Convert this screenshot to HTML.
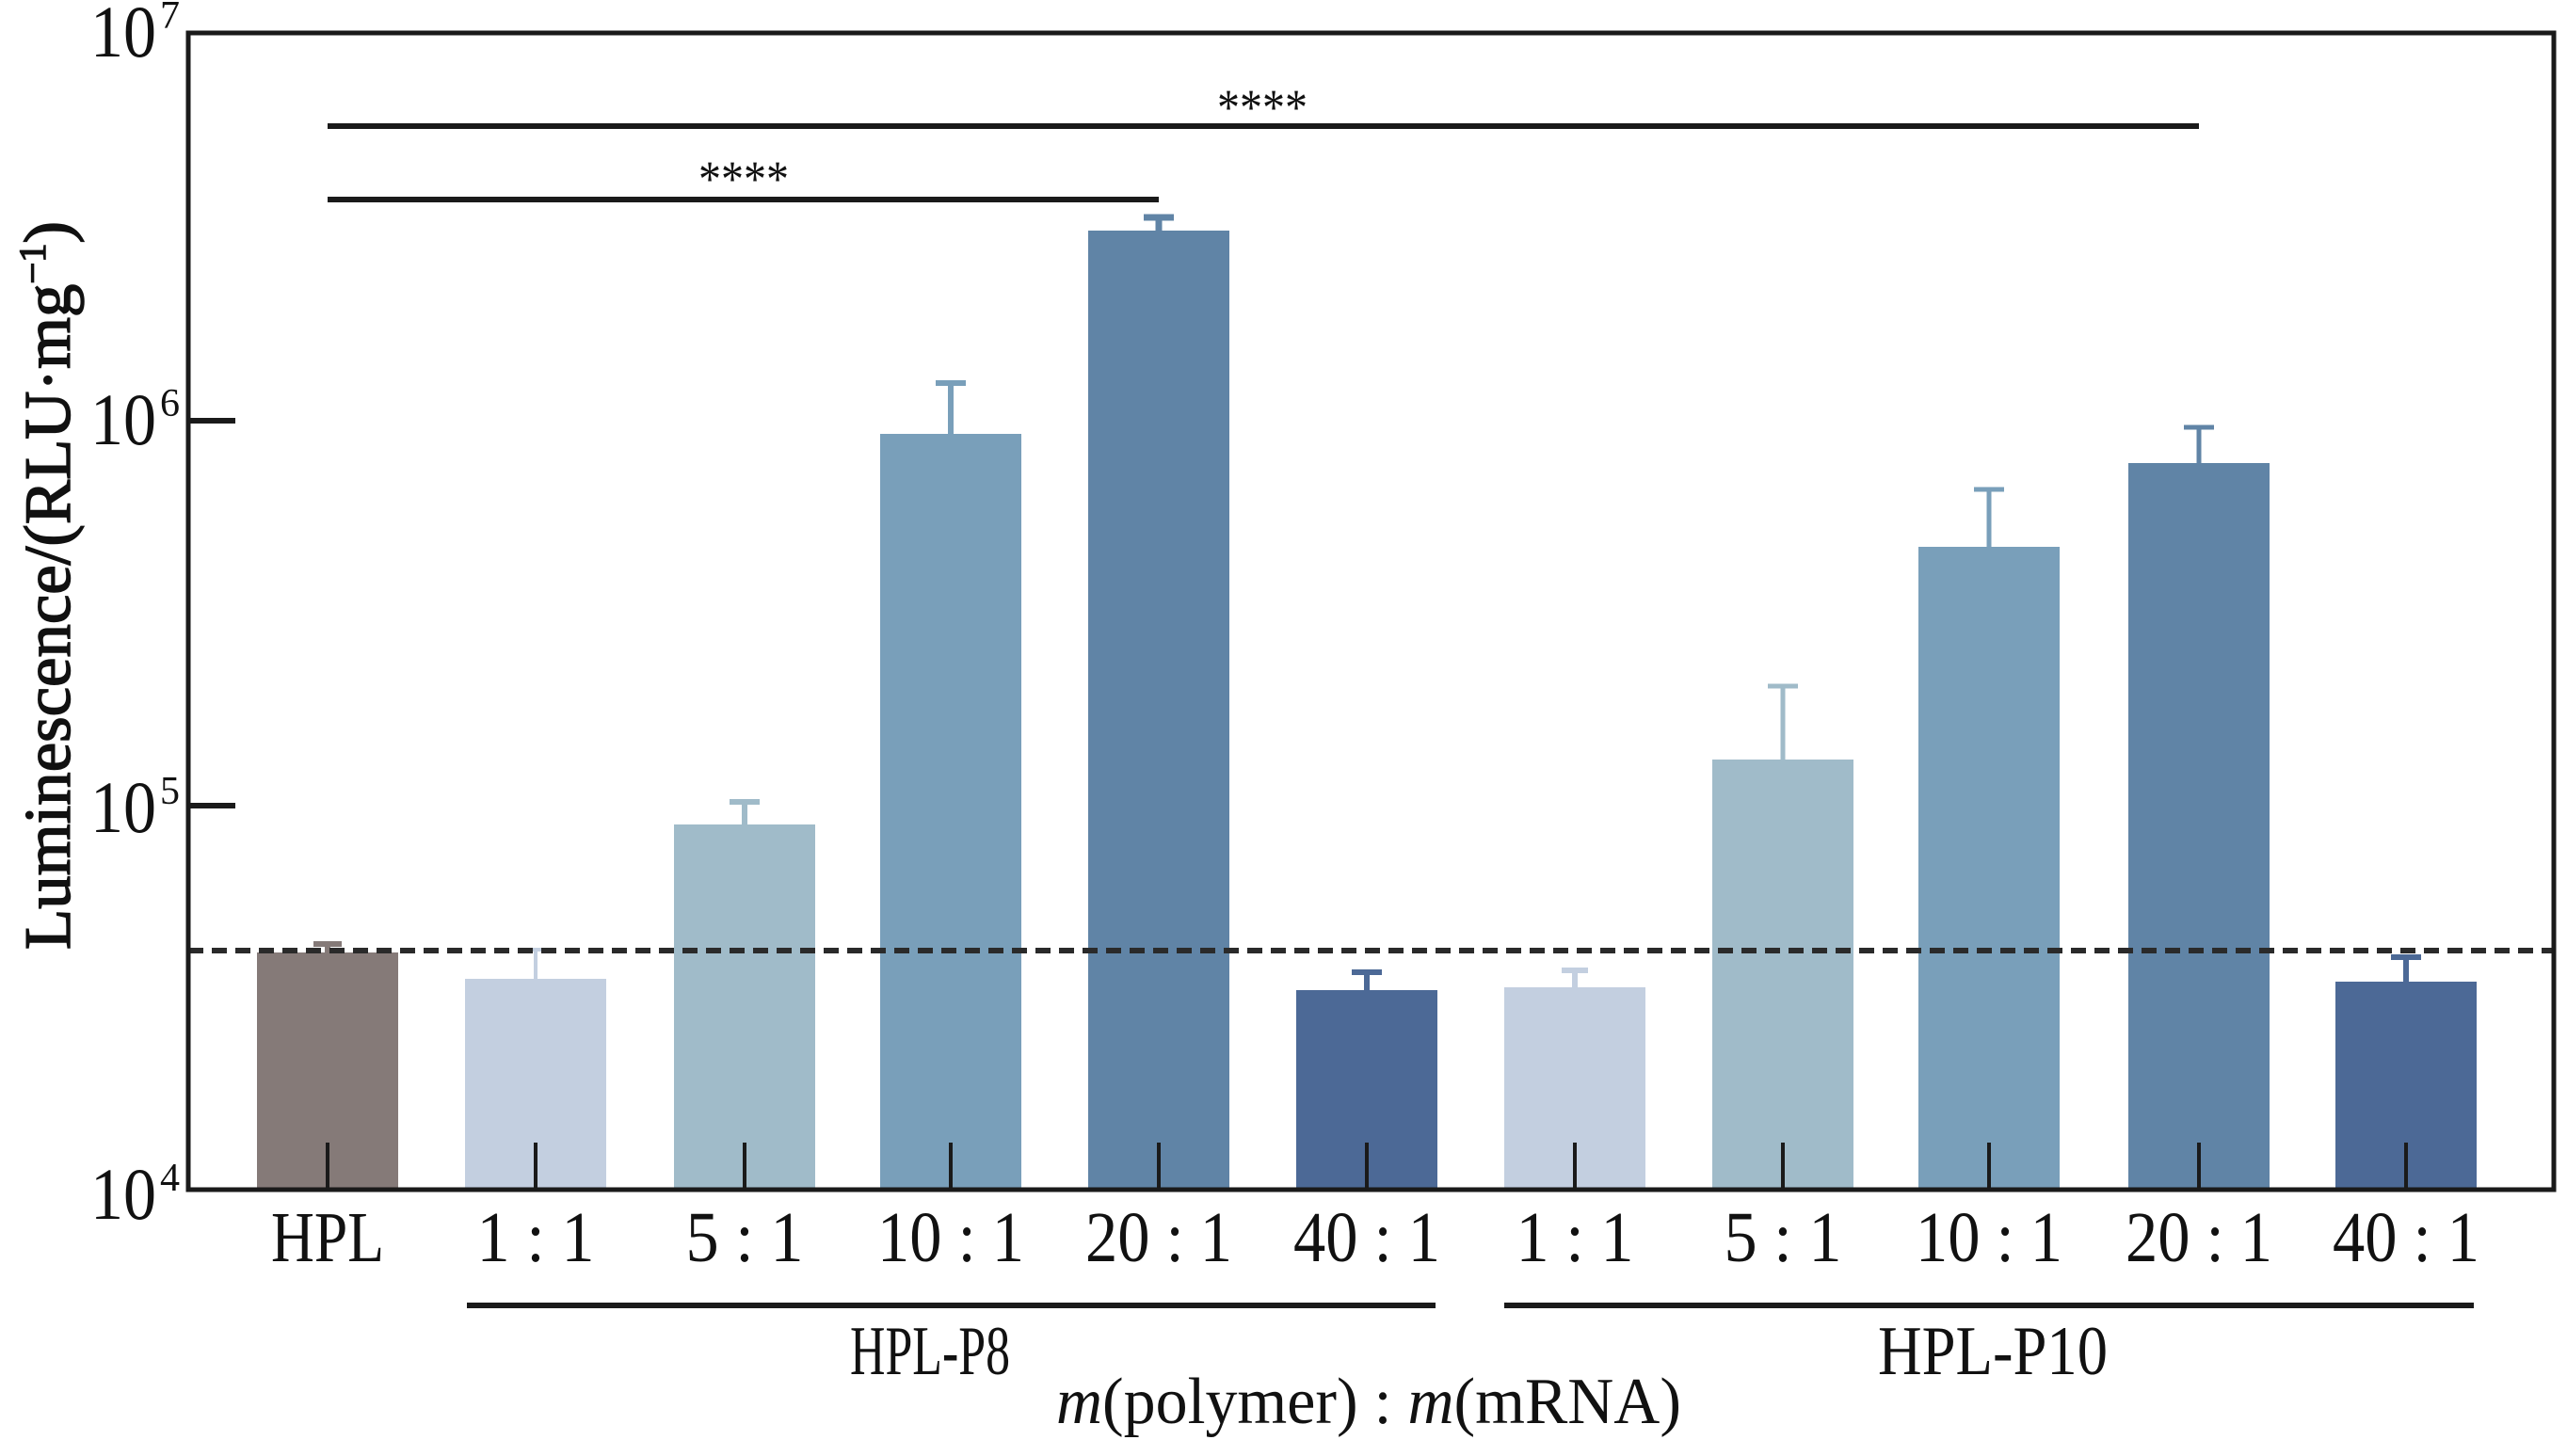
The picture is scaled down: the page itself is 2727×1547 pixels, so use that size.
<!DOCTYPE html>
<html><head><meta charset="utf-8"><style>html,body{margin:0;padding:0;background:#fff}svg{display:block}</style></head><body>
<svg width="2727" height="1547" viewBox="0 0 2727 1547" xmlns="http://www.w3.org/2000/svg" font-family="'Liberation Serif', serif" fill="#111">
<g>
<rect x="273" y="1012" width="150" height="252" fill="#857a78"/>
<rect x="494" y="1040" width="150" height="224" fill="#c3cfe0"/>
<rect x="716" y="876" width="150" height="388" fill="#a0bbc9"/>
<rect x="935" y="461" width="150" height="803" fill="#799fba"/>
<rect x="1156" y="245" width="150" height="1019" fill="#6084a6"/>
<rect x="1377" y="1052" width="150" height="212" fill="#4c6996"/>
<rect x="1598" y="1049" width="150" height="215" fill="#c3cfe0"/>
<rect x="1819" y="807" width="150" height="457" fill="#a0bbc9"/>
<rect x="2038" y="581" width="150" height="683" fill="#799fba"/>
<rect x="2261" y="492" width="150" height="772" fill="#6084a6"/>
<rect x="2481" y="1043" width="150" height="221" fill="#4c6996"/>
</g>
<g stroke-width="4">
<path d="M348 1012V1003M333 1003H363" stroke="#857a78" stroke-width="6"/>
<path d="M569 1040V1009M555 1009H583" stroke="#c3cfe0"/>
<path d="M791 876V852M775 852H807" stroke="#a0bbc9" stroke-width="6"/>
<path d="M1010 461V407M994 407H1026" stroke="#799fba" stroke-width="6"/>
<path d="M1231 245V231M1215 231H1247" stroke="#6084a6" stroke-width="7"/>
<path d="M1452 1052V1033M1436 1033H1468" stroke="#4c6996" stroke-width="6"/>
<path d="M1673 1049V1031M1659 1031H1687" stroke="#c3cfe0" stroke-width="6"/>
<path d="M1894 807V729M1878 729H1910" stroke="#a0bbc9" stroke-width="5"/>
<path d="M2113 581V520M2097 520H2129" stroke="#799fba" stroke-width="5"/>
<path d="M2336 492V454M2320 454H2352" stroke="#6084a6" stroke-width="5"/>
<path d="M2556 1043V1017M2540 1017H2572" stroke="#4c6996" stroke-width="6"/>
</g>
<line x1="200" y1="1010" x2="2713" y2="1010" stroke="#2a2a2a" stroke-width="6" stroke-dasharray="16,9"/>
<rect x="200" y="35" width="2513" height="1229" fill="none" stroke="#1a1a1a" stroke-width="5"/>
<path d="M200 447H250M200 856H250" stroke="#1a1a1a" stroke-width="6"/>
<path d="M348 1214V1264M569 1214V1264M791 1214V1264M1010 1214V1264M1231 1214V1264M1452 1214V1264M1673 1214V1264M1894 1214V1264M2113 1214V1264M2336 1214V1264M2556 1214V1264" stroke="#1a1a1a" stroke-width="4"/>
<path d="M348 134H2336M348 212H1231" stroke="#1a1a1a" stroke-width="6"/>
<text x="1341" y="132" font-size="54" text-anchor="middle" textLength="96" lengthAdjust="spacingAndGlyphs">****</text>
<text x="790" y="208" font-size="54" text-anchor="middle" textLength="96" lengthAdjust="spacingAndGlyphs">****</text>
<g font-size="78">
<text x="96" y="60" textLength="70" lengthAdjust="spacingAndGlyphs">10</text><text x="170" y="30" font-size="42">7</text>
<text x="96" y="472" textLength="70" lengthAdjust="spacingAndGlyphs">10</text><text x="170" y="442" font-size="42">6</text>
<text x="96" y="884" textLength="70" lengthAdjust="spacingAndGlyphs">10</text><text x="170" y="854" font-size="42">5</text>
<text x="96" y="1295" textLength="70" lengthAdjust="spacingAndGlyphs">10</text><text x="170" y="1265" font-size="42">4</text>
</g>
<g font-size="76" text-anchor="middle">
<text x="348" y="1340" textLength="120" lengthAdjust="spacingAndGlyphs">HPL</text>
<text x="569" y="1340" textLength="125" lengthAdjust="spacingAndGlyphs">1 : 1</text>
<text x="791" y="1340" textLength="125" lengthAdjust="spacingAndGlyphs">5 : 1</text>
<text x="1010" y="1340" textLength="156" lengthAdjust="spacingAndGlyphs">10 : 1</text>
<text x="1231" y="1340" textLength="156" lengthAdjust="spacingAndGlyphs">20 : 1</text>
<text x="1452" y="1340" textLength="156" lengthAdjust="spacingAndGlyphs">40 : 1</text>
<text x="1673" y="1340" textLength="125" lengthAdjust="spacingAndGlyphs">1 : 1</text>
<text x="1894" y="1340" textLength="125" lengthAdjust="spacingAndGlyphs">5 : 1</text>
<text x="2113" y="1340" textLength="156" lengthAdjust="spacingAndGlyphs">10 : 1</text>
<text x="2336" y="1340" textLength="156" lengthAdjust="spacingAndGlyphs">20 : 1</text>
<text x="2556" y="1340" textLength="156" lengthAdjust="spacingAndGlyphs">40 : 1</text>
</g>
<path d="M496 1387H1525M1598 1387H2628" stroke="#1a1a1a" stroke-width="6"/>
<text x="988" y="1460" font-size="74" text-anchor="middle" textLength="170" lengthAdjust="spacingAndGlyphs">HPL-P8</text>
<text x="2117" y="1460" font-size="74" text-anchor="middle" textLength="244" lengthAdjust="spacingAndGlyphs">HPL-P10</text>
<text x="1454" y="1512" font-size="70" text-anchor="middle" textLength="664" lengthAdjust="spacingAndGlyphs"><tspan font-style="italic">m</tspan>(polymer) : <tspan font-style="italic">m</tspan>(mRNA)</text>
<text transform="translate(74,622) rotate(-90)" font-size="70" text-anchor="middle" textLength="774" lengthAdjust="spacingAndGlyphs" stroke="#111" stroke-width="1.5">Luminescence/(RLU·mg<tspan font-size="40" dy="-26">−1</tspan><tspan dy="26">)</tspan></text>
</svg>
</body></html>
